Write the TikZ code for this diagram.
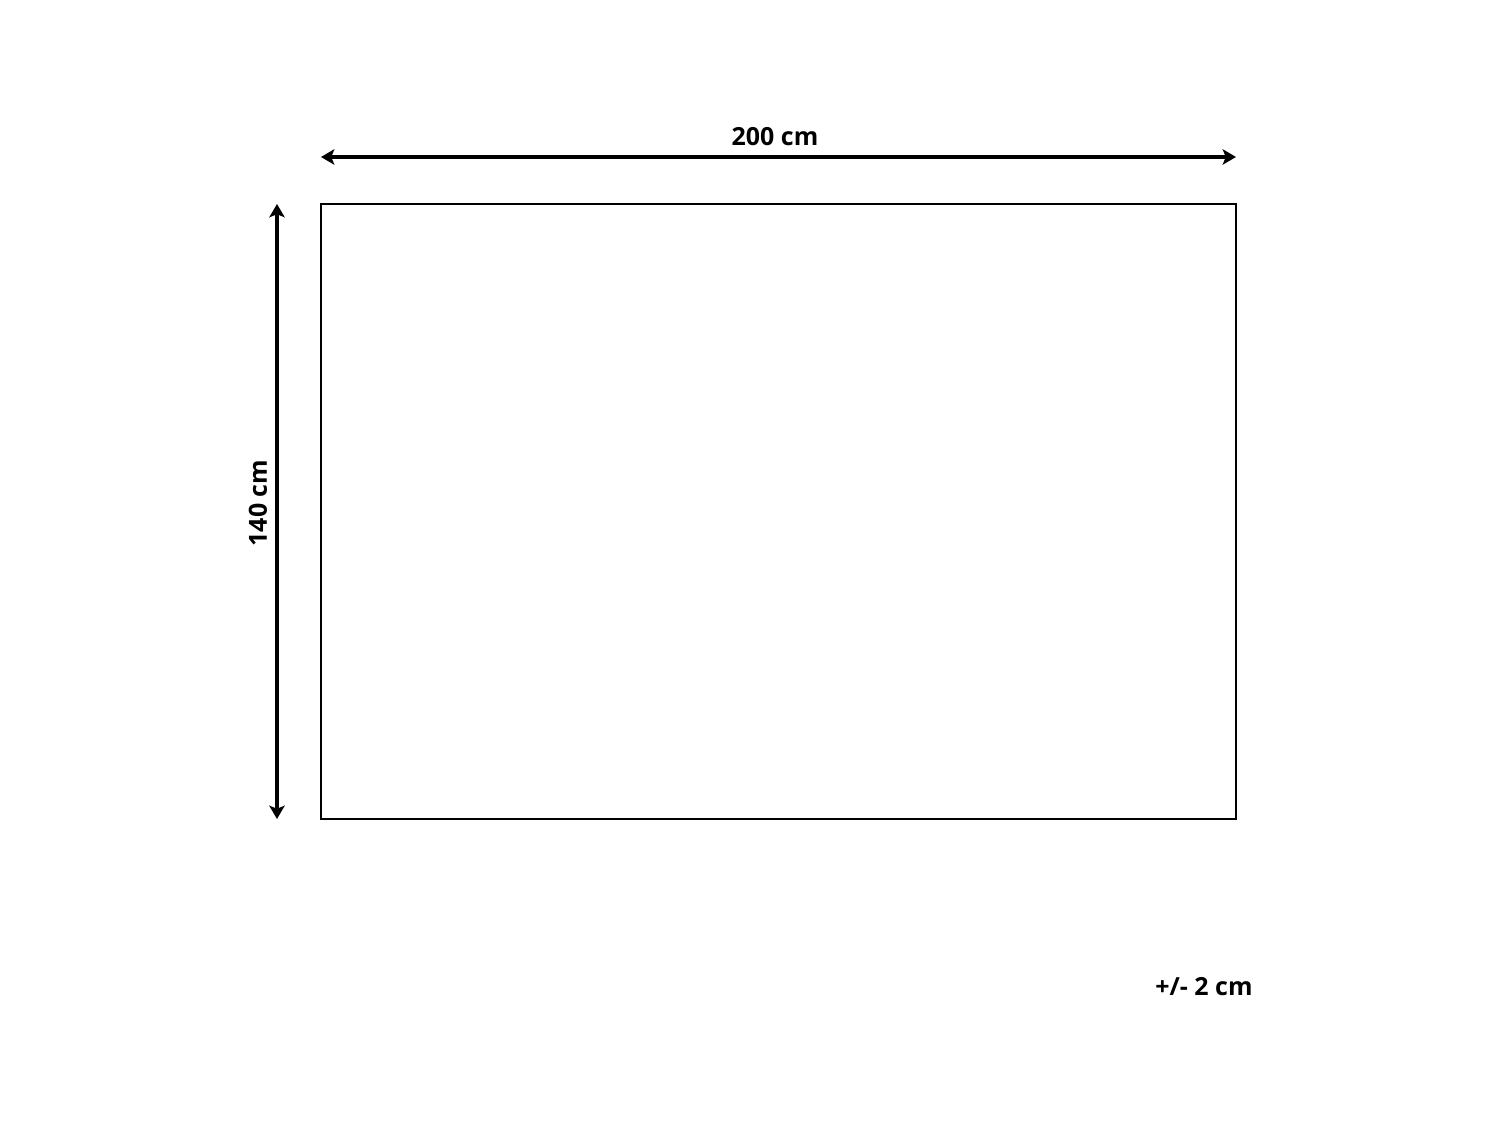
\documentclass[tikz,border=0pt]{standalone}
\usepackage{fontspec}
\setmainfont{Open Sans}
\usetikzlibrary{arrows.meta}

\begin{document}
\begin{tikzpicture}[
    dimline/.style={line width=1.1pt, {Stealth[length=3.8pt,width=4.4pt,inset=0.9pt]}-{Stealth[length=3.8pt,width=4.4pt,inset=0.9pt]}},
    dimlabel/.style={font=\fontsize{7.1}{8}\selectfont\bfseries, inner sep=0pt}
  ]
    \useasboundingbox (0,0) rectangle (15,11.25);
    \coordinate (rugNW) at (3.21, 9.21);
    \coordinate (rugSE) at (12.36, 3.06);
    \draw[line width=0.3pt] (rugNW) rectangle (rugSE);
    \coordinate (topL) at (3.21, 9.68);
    \coordinate (topR) at (12.36, 9.68);
    \draw[dimline] (topL) -- (topR);
    \node[dimlabel] (width) at (7.75, 9.88) {200 cm};
    \coordinate (leftT) at (2.77, 9.21);
    \coordinate (leftB) at (2.77, 3.06);
    \draw[dimline] (leftT) -- (leftB);
    \node[dimlabel, rotate=90] (height) at (2.58, 6.22) {140 cm};
    \node[dimlabel] (tol) at (12.04, 1.38) {+/- 2 cm};
  \end{tikzpicture}
\end{document}
